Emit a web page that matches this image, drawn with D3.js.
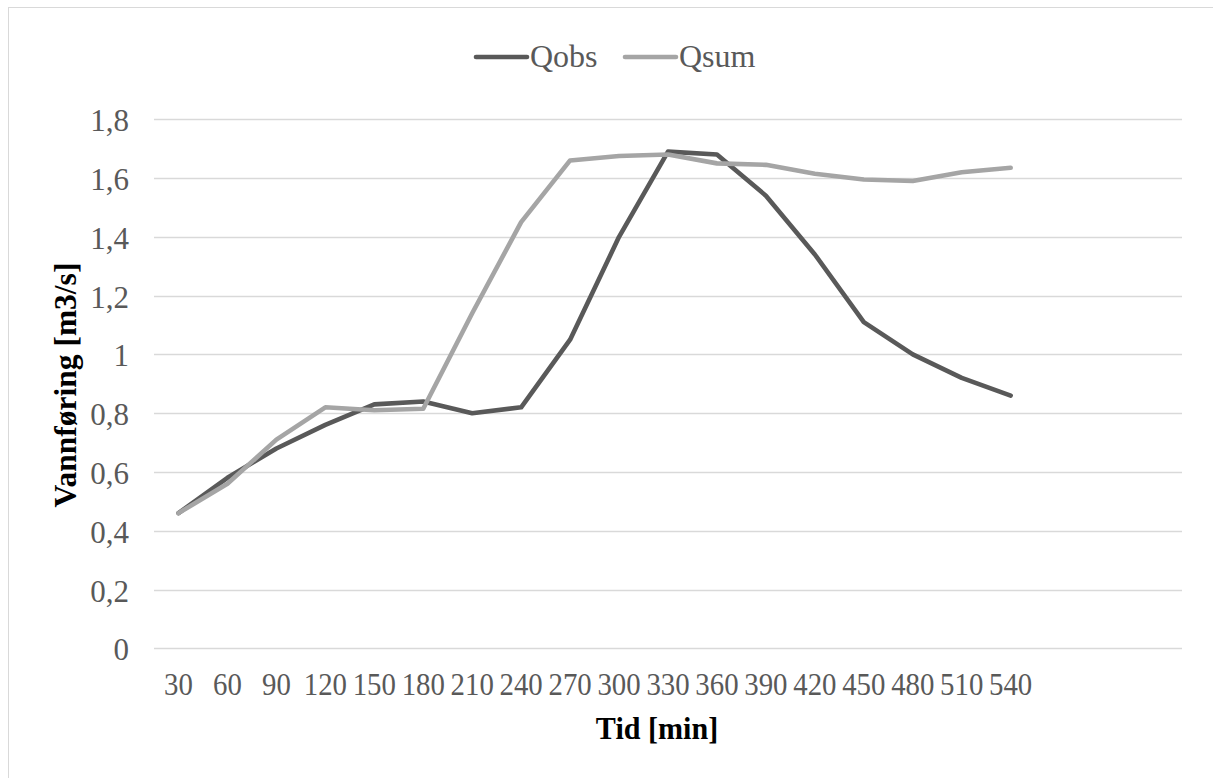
<!DOCTYPE html>
<html>
<head>
<meta charset="utf-8">
<script src="https://cdn.jsdelivr.net/npm/d3@7"></script>
<style>
html,body{margin:0;padding:0;background:#fff;}
svg{display:block;font-family:"Liberation Serif","Times New Roman",serif;}
</style>
</head>
<body>
<svg id="chart" width="1213" height="778"></svg>
<script>
const categories = ["30","60","90","120","150","180","210","240","270","300","330","360","390","420","450","480","510","540"];
const slotCount = 21; // axis has 3 empty trailing slots
const qobs = [0.46,0.58,0.68,0.76,0.83,0.84,0.80,0.82,1.05,1.40,1.69,1.68,1.54,1.34,1.11,1.00,0.92,0.86];
const qsum = [0.46,0.56,0.71,0.82,0.81,0.815,1.14,1.45,1.66,1.675,1.68,1.65,1.645,1.615,1.595,1.59,1.62,1.635];
const yTicks = [0,0.2,0.4,0.6,0.8,1.0,1.2,1.4,1.6,1.8];
const seriesNames = ["Qobs","Qsum"];
const seriesColors = ["#595959","#a5a5a5"];

const svg = d3.select("#chart");
const plotL = 154, plotR = 1182, plotT = 119.3, plotB = 648.3;

// chart border
svg.append("rect").attr("x",8.5).attr("y",7.5).attr("width",1300).attr("height",900)
  .attr("fill","none").attr("stroke","#d9d9d9").attr("stroke-width",1);

const x = d3.scaleBand().domain(d3.range(slotCount)).range([plotL,plotR]).paddingInner(0).paddingOuter(0);
const y = d3.scaleLinear().domain([0,1.8]).range([plotB,plotT]);
const fmt = v => String(+v.toFixed(1)).replace(".",",");

// gridlines
svg.append("g").selectAll("line").data(yTicks).join("line")
  .attr("x1",plotL).attr("x2",plotR)
  .attr("y1",d=>Math.round(y(d))+0.5).attr("y2",d=>Math.round(y(d))+0.5)
  .attr("stroke","#d9d9d9").attr("stroke-width",1.3);

// y tick labels
svg.append("g").selectAll("text").data(yTicks).join("text")
  .attr("x",129).attr("y",d=>y(d)+12)
  .attr("text-anchor","end").attr("font-size",31).attr("fill","#595959")
  .text(fmt);

// x tick labels
svg.append("g").selectAll("text").data(categories).join("text")
  .attr("transform",(d,i)=>`translate(${x(i)+x.bandwidth()/2},695) scale(0.9,1)`)
  .attr("text-anchor","middle").attr("font-size",32).attr("fill","#595959")
  .text(d=>d);

// axis titles
svg.append("text").attr("transform","translate(657,739) scale(0.94,1)").attr("text-anchor","middle")
  .attr("font-size",32).attr("font-weight","bold").attr("fill","#000").text("Tid [min]");
svg.append("text").attr("transform","translate(76,385) rotate(-90)").attr("text-anchor","middle")
  .attr("font-size",31.5).attr("font-weight","bold").attr("fill","#000").text("Vannføring [m3/s]");

// lines
const line = d3.line().x((d,i)=>x(i)+x.bandwidth()/2).y(d=>y(d));
[qobs,qsum].forEach((s,k)=>{
  svg.append("path").datum(s).attr("d",line).attr("fill","none")
    .attr("stroke",seriesColors[k]).attr("stroke-width",4.6)
    .attr("stroke-linejoin","round").attr("stroke-linecap","round");
});

// legend
const legendX = [474,623];
seriesNames.forEach((n,k)=>{
  svg.append("line").attr("x1",legendX[k]+2).attr("x2",legendX[k]+53).attr("y1",57).attr("y2",57)
    .attr("stroke",seriesColors[k]).attr("stroke-width",4.6).attr("stroke-linecap","round");
  svg.append("text").attr("transform",`translate(${legendX[k]+56},67)`)
    .attr("font-size",32).attr("fill","#595959").text(n);
});
</script>
</body>
</html>
